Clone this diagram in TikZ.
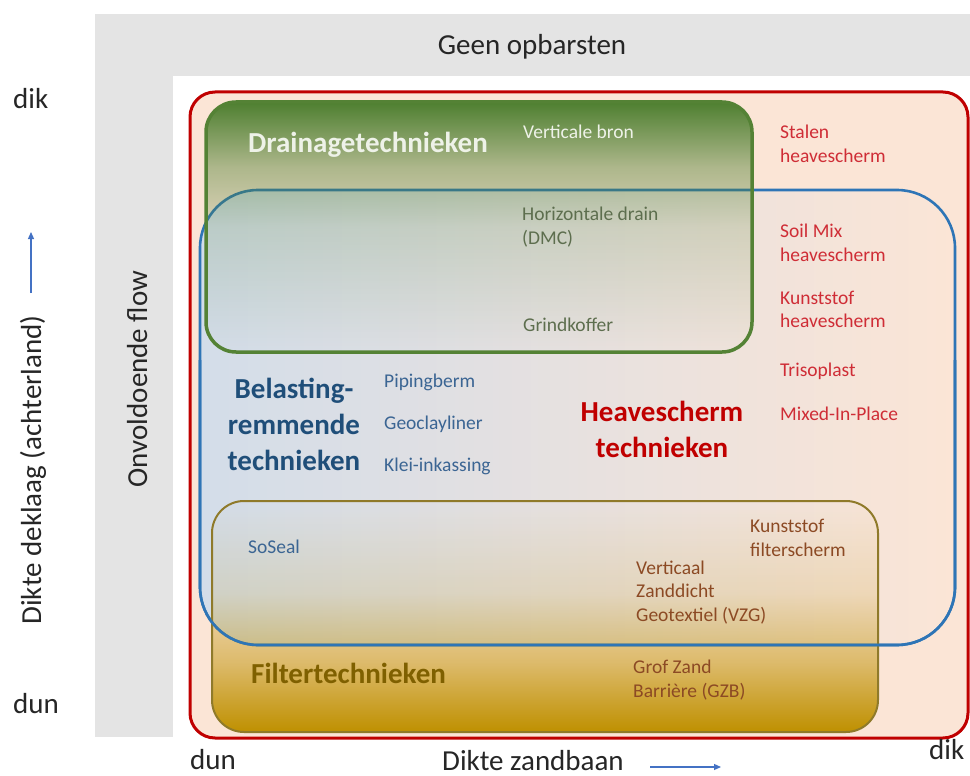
\documentclass[tikz,border=0pt]{standalone}
\usepackage{fontspec}
\setmainfont{Carlito}
\usetikzlibrary{arrows.meta,fadings}
\definecolor{bggray}{HTML}{E4E4E4}
\definecolor{peach}{HTML}{FBE5D6}
\definecolor{redline}{HTML}{C00000}
\definecolor{blueline}{HTML}{2E75B6}
\definecolor{bluefill}{HTML}{D3DDE9}
\definecolor{greenline}{HTML}{548235}
\definecolor{greenfill}{HTML}{4E7F30}
\definecolor{goldfill}{HTML}{BF9000}
\definecolor{goldline}{HTML}{8F7A2A}
\definecolor{axisgray}{HTML}{262626}
\definecolor{greentext}{HTML}{5D6E4E}
\definecolor{whitetext}{HTML}{EEF2E8}
\definecolor{redtext}{HTML}{CF2D36}
\definecolor{redtitle}{HTML}{C00000}
\definecolor{bluetitle}{HTML}{1F4E79}
\definecolor{bluetext}{HTML}{3B6593}
\definecolor{browntext}{HTML}{8C4A24}
\definecolor{filtertitle}{HTML}{7F6000}
\definecolor{arrowblue}{HTML}{4472C4}
\pgfdeclareverticalshading{greenshade}{100bp}{color(0bp)=(pgftransparent!100); color(25bp)=(pgftransparent!100); color(50bp)=(pgftransparent!82); color(62bp)=(pgftransparent!55); color(75bp)=(pgftransparent!0); color(100bp)=(pgftransparent!0)}
\pgfdeclarefading{greenfade}{\pgfuseshading{greenshade}}
\pgfdeclareverticalshading{filtshade}{100bp}{color(0bp)=(pgftransparent!0); color(25bp)=(pgftransparent!0); color(40bp)=(pgftransparent!50); color(55bp)=(pgftransparent!85); color(75bp)=(pgftransparent!100); color(100bp)=(pgftransparent!100)}
\pgfdeclarefading{filtfade}{\pgfuseshading{filtshade}}
\tikzset{
  lbl/.style={font=\fontsize{19.5}{24}\selectfont, inner sep=0pt, anchor=base west},
  bigtitle/.style={font=\fontsize{29}{36}\selectfont\bfseries, inner sep=0pt},
  axislbl/.style={font=\fontsize{29}{34}\selectfont, text=axisgray, inner sep=0pt},
  axarrow/.style={draw=arrowblue, line width=1.2pt, -{Triangle[length=7pt,width=6pt]}},
  redbox/.style={draw=redline, line width=3pt, rounded corners=25pt},
  bluebox/.style={draw=blueline, line width=2.6pt, rounded corners=58pt},
  greenbox/.style={draw=greenline, line width=3.5pt, rounded corners=30pt},
  filterbox/.style={draw=goldline, line width=2pt, rounded corners=32pt},
}
\begin{document}
\begin{tikzpicture}[x=1pt,y=-1pt]
\useasboundingbox (0,0) rectangle (970,776);
\fill[white] (0,0) rectangle (970,776);
% gray L band
\fill[bggray] (95,14) rectangle (970,737);
\fill[white] (173,76) rectangle (970,776);
% red outer box fill
\fill[peach, rounded corners=25pt] (190,92) rectangle (968,738);
% blue box fill and border
\shade[left color=bluefill, right color=peach, rounded corners=58pt] (200,190) rectangle (955,645);
\draw[bluebox] (200,190) rectangle (955,645);
% green box
\fill[greenfill, path fading=greenfade, rounded corners=30pt] (206,102) rectangle (752,352);
\draw[greenbox] (206,102) rectangle (752,352);
% filter box
\fill[goldfill, path fading=filtfade, rounded corners=32pt] (212,501) rectangle (878,732);
\draw[filterbox] (212,501) rectangle (878,732);
% blue border again over filter
\begin{scope}
  \clip (150,360) rectangle (970,700);
  \draw[bluebox] (200,190) rectangle (955,645);
\end{scope}
% red border
\draw[redbox] (190,92) rectangle (968,738);

% axis labels
\node[axislbl, anchor=base] (geen) at (532,55) {Geen opbarsten};
\node[axislbl, anchor=base west] (dikL) at (13,109) {dik};
\node[axislbl, anchor=base west] (dunL) at (13,713) {dun};
\node[axislbl, anchor=base west] (dunB) at (190,769) {dun};
\node[axislbl, anchor=base west] (zandbaan) at (442,770) {Dikte zandbaan};
\node[axislbl, anchor=base west] (dikB) at (929,759) {dik};
\node[axislbl, anchor=base, rotate=90] (deklaag) at (41,470) {Dikte deklaag (achterland)};
\node[axislbl, anchor=base, rotate=90] (flow) at (147,379) {Onvoldoende flow};
\coordinate (va1) at (31,293);
\coordinate (va2) at (31,232);
\draw[axarrow] (va1) -- (va2);
\coordinate (ha1) at (650,767);
\coordinate (ha2) at (721,767);
\draw[axarrow] (ha1) -- (ha2);

% drainage
\node[bigtitle, text=whitetext, anchor=base west] (drain) at (248,152) {Drainagetechnieken};
\node[lbl, text=whitetext] (vbron) at (523,139) {Verticale bron};
\node[lbl, text=greentext] (hdrain1) at (522,220) {Horizontale drain};
\node[lbl, text=greentext] (hdrain2) at (522,244) {(DMC)};
\node[lbl, text=greentext] (grind) at (523,331) {Grindkoffer};

% heavescherm
\node[lbl, text=redtext] (stal1) at (780,139) {Stalen};
\node[lbl, text=redtext] (stal2) at (780,162) {heavescherm};
\node[lbl, text=redtext] (soil1) at (780,237) {Soil Mix};
\node[lbl, text=redtext] (soil2) at (780,261) {heavescherm};
\node[lbl, text=redtext] (kunst1) at (780,304) {Kunststof};
\node[lbl, text=redtext] (kunst2) at (780,327) {heavescherm};
\node[lbl, text=redtext] (triso) at (780,376) {Trisoplast};
\node[lbl, text=redtext] (mip) at (780,420) {Mixed-In-Place};
\node[bigtitle, text=redtitle, anchor=base] (heave1) at (662,421) {Heavescherm};
\node[bigtitle, text=redtitle, anchor=base] (heave2) at (662,457) {technieken};

% belastingremmend
\node[bigtitle, text=bluetitle, anchor=base] (bel1) at (294,398) {Belasting-};
\node[bigtitle, text=bluetitle, anchor=base] (bel2) at (294,434) {remmende};
\node[bigtitle, text=bluetitle, anchor=base] (bel3) at (294,470) {technieken};
\node[lbl, text=bluetext] (piping) at (384,387) {Pipingberm};
\node[lbl, text=bluetext] (geoclay) at (384,429) {Geoclayliner};
\node[lbl, text=bluetext] (klei) at (384,471) {Klei-inkassing};
\node[lbl, text=bluetext] (soseal) at (248,553) {SoSeal};

% filter
\node[lbl, text=browntext] (kfilt1) at (750,532) {Kunststof};
\node[lbl, text=browntext] (kfilt2) at (750,556) {filterscherm};
\node[lbl, text=browntext] (vzg1) at (636,574) {Verticaal};
\node[lbl, text=browntext] (vzg2) at (636,597) {Zanddicht};
\node[lbl, text=browntext] (vzg3) at (636,621) {Geotextiel (VZG)};
\node[lbl, text=browntext] (gzb1) at (633,673) {Grof Zand};
\node[lbl, text=browntext] (gzb2) at (633,697) {Barrière (GZB)};
\node[bigtitle, text=filtertitle, anchor=base west] (filt) at (251,683) {Filtertechnieken};
\end{tikzpicture}
\end{document}
